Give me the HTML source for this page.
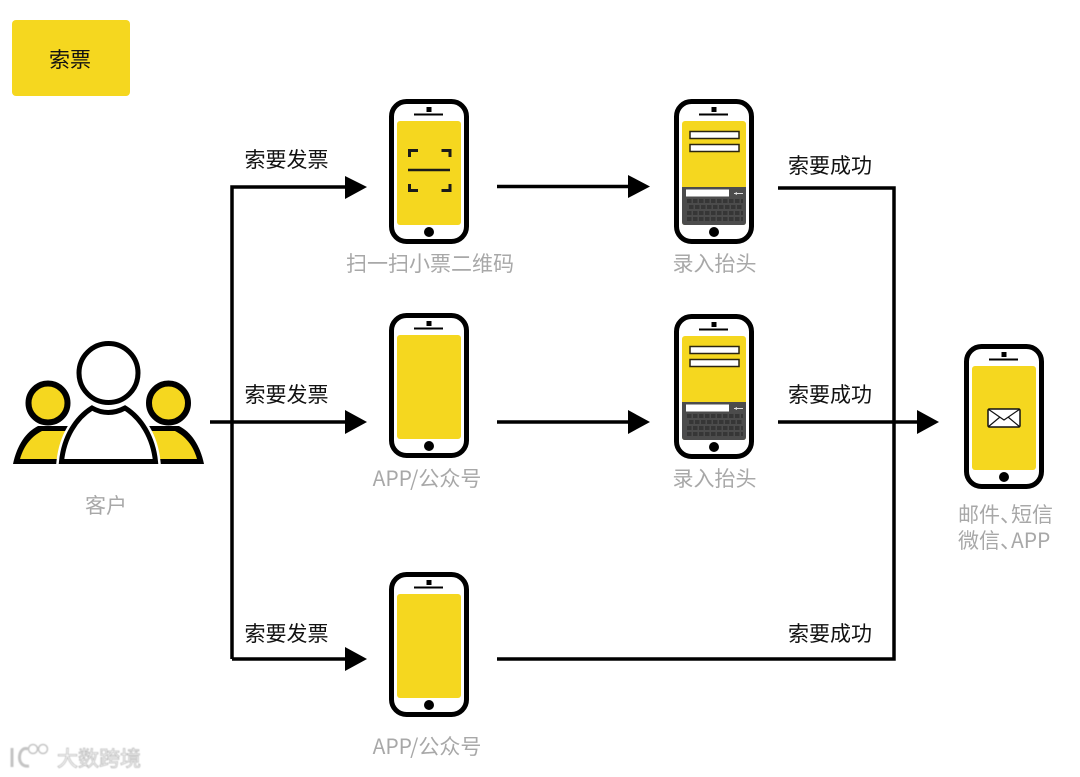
<!DOCTYPE html>
<html>
<head>
<meta charset="utf-8">
<style>
html,body{margin:0;padding:0;background:#fff;width:1080px;height:777px;overflow:hidden}
svg{display:block}
text{font-family:"Noto Sans CJK SC","Liberation Sans",sans-serif;font-size:21px}
.k{fill:#111}
.g{fill:#a8a8a8}
.l{stroke:#000;stroke-width:3.5;fill:none}
.h{fill:#000}
</style>
</head>
<body>
<svg width="1080" height="777" viewBox="0 0 1080 777" xmlns="http://www.w3.org/2000/svg">
<defs>
<filter id="b" x="-10%" y="-10%" width="120%" height="120%"><feGaussianBlur stdDeviation="0.6"/></filter>
<g id="phone">
<rect x="2.500" y="2.500" width="75" height="140" rx="15" fill="#fff" stroke="#000" stroke-width="5"/>
<rect x="8" y="22" width="64" height="104" rx="3" fill="#f5d71f"/>
<rect x="37.500" y="8" width="5" height="5" fill="#000"/>
<rect x="25" y="14.500" width="29" height="2" fill="#000"/>
<circle cx="40" cy="133" r="5" fill="#000"/>
</g>
<g id="kb">
<rect x="16" y="32.500" width="49" height="7" fill="#fff" stroke="#2a2410" stroke-width="1.500"/>
<rect x="16" y="45.500" width="49" height="7" fill="#fff" stroke="#2a2410" stroke-width="1.500"/>
<path d="M8 88H72V123Q72 126 69 126H11Q8 126 8 123Z" fill="#4c4c4c"/>
<rect x="12" y="90.500" width="43" height="7" fill="#fff"/>
<path d="M60 94.500H69" stroke="#ddd" stroke-width="1"/>
<path d="M60 94.500L63 93V96Z" fill="#ddd"/>
<path d="M13 102H69M15 108H69M13 114H69M13 120H69" stroke="#363636" stroke-width="4" stroke-dasharray="4.500 1.500"/>
</g>
</defs>

<rect x="12" y="20" width="118" height="76" rx="4" fill="#f5d71f"/>
<text class="k" x="70" y="67" text-anchor="middle">索票</text>

<!-- people -->
<path d="M13 464C17 445 26 432 38 426H70V464Z" fill="#000"/>
<path d="M20 459C24 445 32 436 42 431H70V459Z" fill="#f5d71f"/>
<path d="M204 464C200 445 191 432 179 426H147V464Z" fill="#000"/>
<path d="M197 459C193 445 185 436 175 431H147V459Z" fill="#f5d71f"/>
<circle cx="48" cy="403" r="19.500" fill="#f5d71f" stroke="#000" stroke-width="6"/>
<circle cx="168.500" cy="403" r="19.500" fill="#f5d71f" stroke="#000" stroke-width="6"/>
<path d="M61.500 461.500C64 437 76 418 92 408Q108 417 125 408C141 418 153 437 155.500 461.500Z" fill="#fff" stroke="#fff" stroke-width="10"/>
<path d="M61.500 461.500C64 437 76 418 92 408Q108 417 125 408C141 418 153 437 155.500 461.500Z" fill="#fff" stroke="#000" stroke-width="5"/>
<circle cx="108.500" cy="373" r="29.500" fill="#fff" stroke="#000" stroke-width="5"/>

<!-- connectors -->
<path class="l" d="M210 422H345M232 659V187H345M232 659H345"/>
<path class="h" d="M345 176L367 187L345 199ZM345 410L367 422L345 434ZM345 647L367 659L345 671Z"/>
<path class="l" d="M497 186.500H628M497 422H628"/>
<path class="h" d="M628 175L650 186.500L628 198ZM628 410L650 422L628 434Z"/>
<path class="l" d="M778 188H894V659H497M778 422H917"/>
<path class="h" d="M917 410L939 422L917 434Z"/>

<!-- phones -->
<g transform="translate(389,99)"><use href="#phone"/>
<path d="M20.500 58V51.500H29M61 58V51.500H52.500M20.500 85V91.500H29M61 85V91.500H52.500" fill="none" stroke="#1a1a1a" stroke-width="3"/>
<path d="M19 71H61" stroke="#1a1a1a" stroke-width="2.500"/>
</g>
<g transform="translate(674,99)"><use href="#phone"/><use href="#kb"/></g>
<g transform="translate(389,313)"><use href="#phone"/></g>
<g transform="translate(674,314)"><use href="#phone"/><use href="#kb"/></g>
<g transform="translate(389,572)"><use href="#phone"/></g>
<g transform="translate(964,344)"><use href="#phone"/>
<rect x="24" y="65" width="32" height="18" rx="1.500" fill="#fff" stroke="#111" stroke-width="1.500"/>
<path d="M24 65L40 76L56 65M24 83L36 73M56 83L44 73" fill="none" stroke="#111" stroke-width="1.200"/>
</g>

<!-- labels -->
<text class="k" x="286.500" y="167" text-anchor="middle">索要发票</text>
<text class="k" x="286.500" y="402" text-anchor="middle">索要发票</text>
<text class="k" x="286.500" y="641" text-anchor="middle">索要发票</text>
<text class="k" x="830" y="173" text-anchor="middle">索要成功</text>
<text class="k" x="830" y="402" text-anchor="middle">索要成功</text>
<text class="k" x="830" y="641" text-anchor="middle">索要成功</text>

<text class="g" x="430" y="271" text-anchor="middle">扫一扫小票二维码</text>
<text class="g" x="714.500" y="271" text-anchor="middle">录入抬头</text>
<text class="g" x="427" y="486" text-anchor="middle">APP/公众号</text>
<text class="g" x="714.500" y="486" text-anchor="middle">录入抬头</text>
<text class="g" x="427" y="754" text-anchor="middle">APP/公众号</text>
<text class="g" x="106" y="513" text-anchor="middle">客户</text>
<text class="g" x="958" y="522">邮件、<tspan dx="-10">短信</tspan></text>
<text class="g" x="958" y="548">微信、<tspan dx="-10">APP</tspan></text>

<!-- watermark -->
<g filter="url(#b)">
<path d="M12 748V767M28 749C18 745 15 768 29 766" fill="none" stroke="#c4c4c4" stroke-width="3"/>
<circle cx="33" cy="749" r="4.500" fill="none" stroke="#c4c4c4" stroke-width="1.500"/>
<circle cx="43" cy="749" r="4.500" fill="none" stroke="#c4c4c4" stroke-width="1.500"/>
<text x="57" y="766" style="font-size:21px;fill:#fff;stroke:#bcbcbc;stroke-width:0.800">大数跨境</text>
</g>
</svg>
</body>
</html>
